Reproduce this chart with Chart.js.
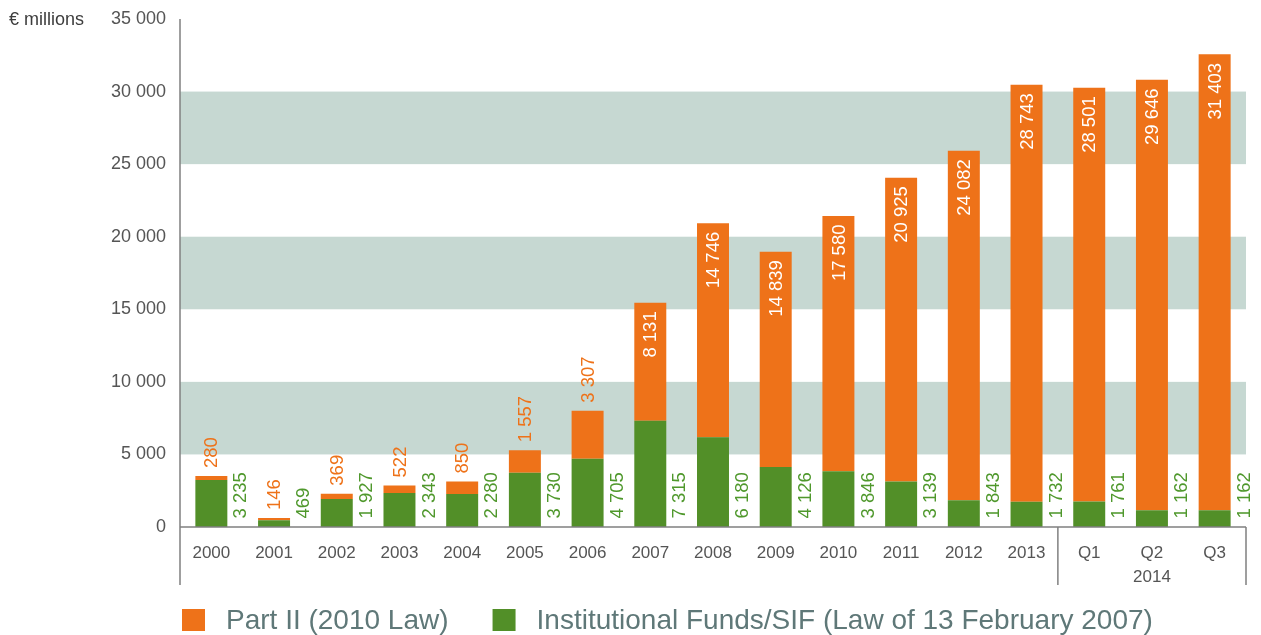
<!DOCTYPE html>
<html>
<head>
<meta charset="utf-8">
<script src="https://cdn.jsdelivr.net/npm/chart.js@4/dist/chart.umd.min.js"></script>
<style>
  html, body { margin: 0; padding: 0; background: #ffffff; }
  #wrap { width: 1261px; height: 635px; position: relative; }
</style>
</head>
<body>
<div id="wrap"><canvas id="c" width="1261" height="635"></canvas></div>
<script>
// ---- data ----
const categories = ['2000','2001','2002','2003','2004','2005','2006','2007','2008','2009','2010','2011','2012','2013','Q1','Q2','Q3'];
const groupLabel = '2014';
const groupStart = 14; // first category of the 2014 group
const partII = [280, 146, 369, 522, 850, 1557, 3307, 8131, 14746, 14839, 17580, 20925, 24082, 28743, 28501, 29646, 31403];
const institutional = [3235, 469, 1927, 2343, 2280, 3730, 4705, 7315, 6180, 4126, 3846, 3139, 1843, 1732, 1761, 1162, 1162];
const seriesNames = ['Part II (2010 Law)', 'Institutional Funds/SIF (Law of 13 February 2007)'];
const yTicks = [0, 5000, 10000, 15000, 20000, 25000, 30000, 35000];
const bandRanges = [[5000, 10000], [15000, 20000], [25000, 30000]];
const unitLabel = '€ millions';

// ---- style ----
const ORANGE = '#ee7219';
const GREEN = '#528f28';
const GREEN_TXT = '#4f982c';
const BAND = '#c6d8d2';
const AXIS = '#808080';
const TICK = '#555555';
const LEGEND_TXT = '#5f7878';
const FONT = '"Liberation Sans", Arial, Helvetica, sans-serif';

function fmt(v) {
  return String(v).replace(/\B(?=(\d{3})+(?!\d))/g, ' ');
}

const bandsPlugin = {
  id: 'bands',
  beforeDatasetsDraw(chart) {
    const { ctx, chartArea, scales } = chart;
    const y = scales.y;
    ctx.save();
    ctx.fillStyle = BAND;
    bandRanges.forEach(([a, b]) => {
      const top = y.getPixelForValue(b);
      const bot = y.getPixelForValue(a);
      ctx.fillRect(chartArea.left, top, chartArea.right - chartArea.left, bot - top);
    });
    ctx.restore();
  }
};

const decorPlugin = {
  id: 'decor',
  afterDraw(chart) {
    const { ctx, chartArea, scales } = chart;
    const x = scales.x;
    const base = scales.y.getPixelForValue(0);
    const lowEnd = 585;
    ctx.save();
    ctx.strokeStyle = AXIS;
    ctx.lineWidth = 1.5;
    ctx.beginPath();
    ctx.moveTo(chartArea.left, chartArea.top);
    ctx.lineTo(chartArea.left, lowEnd);
    ctx.moveTo(chartArea.left, base);
    ctx.lineTo(chartArea.right, base);
    const sep = (x.getPixelForValue(groupStart - 1) + x.getPixelForValue(groupStart)) / 2;
    ctx.moveTo(sep, base);
    ctx.lineTo(sep, lowEnd);
    ctx.moveTo(chartArea.right, base);
    ctx.lineTo(chartArea.right, lowEnd);
    ctx.stroke();

    // group label
    ctx.fillStyle = TICK;
    ctx.font = '17px ' + FONT;
    ctx.textAlign = 'center';
    ctx.textBaseline = 'middle';
    ctx.fillText(groupLabel, (sep + chartArea.right) / 2, 577);

    // unit label
    ctx.fillStyle = '#3d3d3d';
    ctx.font = '18px ' + FONT;
    ctx.textAlign = 'left';
    ctx.fillText(unitLabel, 9, 20);

    // legend
    ctx.font = '28px ' + FONT;
    ctx.textBaseline = 'middle';
    const colors = [ORANGE, GREEN];
    let lx = 182;
    seriesNames.forEach((name, i) => {
      ctx.fillStyle = colors[i];
      ctx.fillRect(lx, 609, 23, 22);
      ctx.fillStyle = LEGEND_TXT;
      ctx.fillText(name, lx + 44, 621);
      lx = lx + 44 + ctx.measureText(name).width + 44;
    });
    ctx.restore();
  }
};

const labelsPlugin = {
  id: 'valueLabels',
  afterDatasetsDraw(chart) {
    const { ctx, scales } = chart;
    const base = scales.y.getPixelForValue(0);
    const metaO = chart.getDatasetMeta(1);
    const metaG = chart.getDatasetMeta(0);
    ctx.save();
    ctx.font = '18.5px ' + FONT;
    ctx.textBaseline = 'middle';
    // green labels
    metaG.data.forEach((bar, i) => {
      ctx.save();
      ctx.translate(bar.x + 29, base - 8.5);
      ctx.rotate(-Math.PI / 2);
      ctx.fillStyle = GREEN_TXT;
      ctx.textAlign = 'left';
      ctx.fillText(fmt(institutional[i]), 0, 1);
      ctx.restore();
    });
    // orange labels
    metaO.data.forEach((bar, i) => {
      const txt = fmt(partII[i]);
      const w = ctx.measureText(txt).width;
      const h = Math.abs(bar.base - bar.y);
      ctx.save();
      if (h > w + 22) {
        ctx.translate(bar.x, bar.y + 8.5);
        ctx.rotate(-Math.PI / 2);
        ctx.fillStyle = '#ffffff';
        ctx.textAlign = 'right';
      } else {
        ctx.translate(bar.x, bar.y - 8);
        ctx.rotate(-Math.PI / 2);
        ctx.fillStyle = ORANGE;
        ctx.textAlign = 'left';
      }
      ctx.fillText(txt, 0, 1);
      ctx.restore();
    });
    ctx.restore();
  }
};

new Chart(document.getElementById('c'), {
  type: 'bar',
  data: {
    labels: categories,
    datasets: [
      { label: seriesNames[1], data: institutional, backgroundColor: GREEN, stack: 's', categoryPercentage: 1, barPercentage: 0.51 },
      { label: seriesNames[0], data: partII, backgroundColor: ORANGE, stack: 's', categoryPercentage: 1, barPercentage: 0.51 }
    ]
  },
  options: {
    responsive: false,
    animation: false,
    layout: { autoPadding: false, padding: { left: 0, right: 15, top: 19, bottom: 0 } },
    plugins: { legend: { display: false }, tooltip: { enabled: false } },
    scales: {
      x: {
        stacked: true,
        grid: { display: false, drawTicks: false },
        border: { display: false },
        ticks: { color: TICK, font: { family: FONT, size: 17 }, padding: 16, maxRotation: 0, autoSkip: false },
        afterFit(s) { s.height = 108; }
      },
      y: {
        stacked: true,
        min: 0,
        max: 35000,
        grid: { display: false, drawTicks: false },
        border: { display: false },
        afterBuildTicks(s) { s.ticks = yTicks.map(v => ({ value: v })); },
        ticks: { color: TICK, font: { family: FONT, size: 18, lineHeight: 0.5 }, padding: 14, callback: v => fmt(v) },
        afterFit(s) { s.width = 180; }
      }
    }
  },
  plugins: [bandsPlugin, labelsPlugin, decorPlugin]
});
</script>
</body>
</html>
